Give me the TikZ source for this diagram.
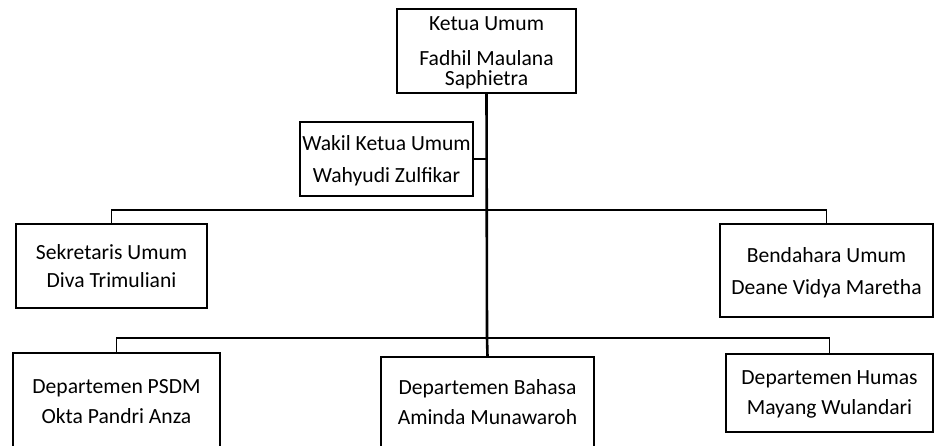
\documentclass[tikz,border=0pt]{standalone}
\usepackage{fontspec}
\setmainfont{Carlito}
\usetikzlibrary{calc}

\tikzset{
  jabatan/.style={draw=black,line width=1.6pt,rectangle,align=center,inner sep=0pt,
    text depth=0pt,font=\fontsize{21.6}{20}\selectfont},
  garis/.style={black,line width=1.6pt},
  batang/.style={black,line width=2.6pt}
}

\begin{document}
\begin{tikzpicture}[x=1pt,y=-1pt]

\useasboundingbox (0,0) rectangle (934,445);
\clip (0,0) rectangle (934,445);

\node[jabatan,minimum width=179,minimum height=84] (ketua) at (486.5,51)
  {Ketua Umum\\[15pt]Fadhil Maulana\\Saphietra};
\node[jabatan,minimum width=173,minimum height=74] (wakil) at (386.5,159)
  {Wakil Ketua Umum\\[11.7pt]Wahyudi Zulfikar};
\node[jabatan,minimum width=191,minimum height=84] (sekum) at (111.5,266)
  {Sekretaris Umum\\[8.3pt]Diva Trimuliani};
\node[jabatan,minimum width=213,minimum height=93] (bendum) at (826.5,270.5)
  {Bendahara Umum\\[12pt]Deane Vidya Maretha};
\node[jabatan,minimum width=207,minimum height=96] (psdm) at (116.5,401)
  {Departemen PSDM\\[10pt]Okta Pandri Anza};
\node[jabatan,minimum width=213,minimum height=90] (bahasa) at (487.5,402)
  {Departemen Bahasa\\[10pt]Aminda Munawaroh};
\node[jabatan,minimum width=207,minimum height=78] (humas) at (829.5,393)
  {Departemen Humas\\[10pt]Mayang Wulandari};

\coordinate (cab1) at (487,210);
\coordinate (cab2) at (487,338);

% garis tengah
\draw[batang] (ketua.south) -- (cab2) -- (bahasa.north);
\draw[garis] (wakil.east) -- (wakil.east -| cab1);

% sekretaris dan bendahara
\draw[garis] (sekum.north) |- (cab1) -| (bendum.north);

% departemen
\draw[garis] (psdm.north) |- (cab2) -| (humas.north);

\end{tikzpicture}
\end{document}
